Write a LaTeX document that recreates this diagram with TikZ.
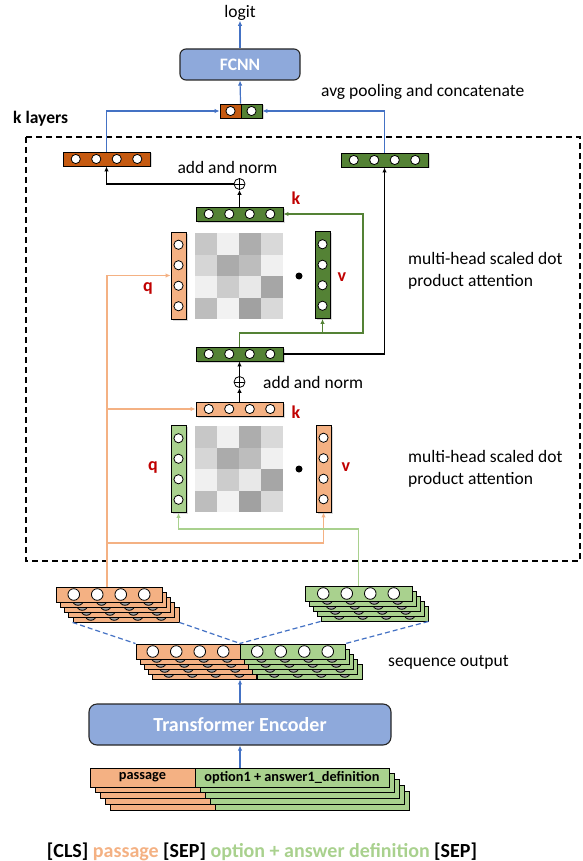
\documentclass[tikz,border=0pt]{standalone}
\usepackage{fontspec}
\setmainfont{Carlito}
\usetikzlibrary{arrows.meta,shadows}
\definecolor{dorange}{HTML}{C55A11}
\definecolor{dgreen}{HTML}{548235}
\definecolor{lorange}{HTML}{F4B183}
\definecolor{lgreen}{HTML}{A9D18E}
\definecolor{lblue}{HTML}{8EA9DB}
\definecolor{ablue}{HTML}{4472C4}
\definecolor{lred}{HTML}{C00000}
\definecolor{peek}{HTML}{A0A0A0}
\tikzset{
  vbox/.style={draw=black, line width=0.9pt, inner sep=0pt,
    drop shadow={shadow xshift=1.5pt, shadow yshift=-1.5pt, opacity=0.3}},
  hvec/.style={vbox, minimum width=87pt, minimum height=14pt},
  vvec/.style={vbox, minimum width=15pt, minimum height=87pt},
  cellc/.style={draw=black, fill=white, line width=0.8pt},
  layer/.style={draw=black, line width=0.9pt, inner sep=0pt},
  lbl/.style={font=\fontsize{17.5}{22}\selectfont, text=black, inner sep=0pt},
  redl/.style={font=\bfseries\fontsize{18}{22}\selectfont, text=lred, inner sep=0pt},
  conn/.style={line width=1.2pt, -{Latex[length=5pt,width=4.5pt]}},
  bigbox/.style={draw=black!85, line width=1.1pt, rounded corners=6pt, fill=lblue,
    text=white, font=\bfseries, inner sep=0pt},
  oplus/.style={circle, draw, line width=0.8pt, minimum size=11pt, inner sep=0pt,
    path picture={\draw[line width=0.8pt] (path picture bounding box.north) -- (path picture bounding box.south)
      (path picture bounding box.west) -- (path picture bounding box.east);}},
  dotn/.style={circle, fill=black, inner sep=0pt, minimum size=7pt},
  zoomline/.style={ablue, line width=1.2pt, dash pattern=on 5pt off 3pt},
}
\newcommand\myhvec[4]{%
  \node[hvec, fill=#4] (#1) at (#2,#3) {};
  \foreach \d in {-30.75,-10.25,10.25,30.75}{\draw[cellc] (#1.center) ++(\d,0) circle[radius=4.6pt];}
}
\newcommand\myvvec[4]{%
  \node[vvec, fill=#4] (#1) at (#2,#3) {};
  \foreach \d in {-30.75,-10.25,10.25,30.75}{\draw[cellc] (#1.center) ++(0,\d) circle[radius=4.6pt];}
}
\newcommand\attmat[2]{%
  \foreach \i/\j/\g in {0/0/22,1/0/6,2/0/32,3/0/15,
                        0/1/16,1/1/33,2/1/26,3/1/6,
                        0/2/6,1/2/20,2/2/9,3/2/35,
                        0/3/26,1/3/5,2/3/37,3/3/15}{
    \fill[black!\g] ({#1+\i*22},{#2+\j*21.5}) rectangle ++(22,21.5);}
}
\begin{document}
\begin{tikzpicture}[x=1pt,y=-1pt]
\useasboundingbox (0,0) rectangle (582,861);

% ---------- top ----------
\node[lbl] (logit) at (240,13) {logit};
\node[bigbox, minimum width=120pt, minimum height=31pt, font=\bfseries\fontsize{17.5}{20}\selectfont] (fcnn) at (240,64.5) {FCNN};
\node[vbox, fill=dorange, minimum width=21pt, minimum height=14pt] (catL) at (230.5,111) {};
\node[vbox, fill=dgreen, minimum width=21pt, minimum height=14pt] (catR) at (251.5,111) {};
\draw[cellc] (catL.center) circle[radius=4.6pt];
\draw[cellc] (catR.center) circle[radius=4.6pt];
\node[lbl, anchor=west] (avgl) at (321,92) {avg pooling and concatenate};
\node[lbl, anchor=west, font=\bfseries\fontsize{17.5}{22}\selectfont] (klay) at (13,119) {k layers};

\draw[line width=1.4pt, dash pattern=on 6pt off 4pt] (26,137) rectangle (580,561);

\myhvec{outL}{106.5}{159}{dorange}
\myhvec{outR}{384.5}{160}{dgreen}

\draw[conn, ablue] (catR.north west) -- (fcnn.south);
\draw[conn, ablue] (fcnn.north) -- (logit.south);
\draw[conn, ablue] (outL.north) |- (catL.west);
\draw[conn, ablue] (outR.north) |- (catR.east);

% ---------- upper attention ----------
\node[lbl] (addA) at (227.5,167) {add and norm};
\node[oplus] (plusA) at (239.5,184) {};
\myhvec{kA}{239.5}{214}{dgreen}
\node[redl] (kAl) at (296,198) {k};
\myvvec{qA}{178.5}{275.5}{lorange}
\attmat{195}{233}
\node[dotn] (dotA) at (299,276) {};
\myvvec{vA}{322.5}{275}{dgreen}
\node[redl] (qAl) at (148,288) {q};
\node[redl] (vAl) at (342,277) {v};
\node[lbl, anchor=west, align=left] (mhA) at (408,271) {multi-head scaled dot\\product attention};

\myhvec{mid}{239.5}{354}{dgreen}

% ---------- lower attention ----------
\node[oplus] (plusB) at (239.5,382) {};
\node[lbl, anchor=west] (addB) at (263,382) {add and norm};
\myhvec{kB}{239.5}{409}{lorange}
\node[redl] (kBl) at (296,412) {k};
\myvvec{qB}{178.5}{469}{lgreen}
\attmat{195}{426}
\node[dotn] (dotB) at (299,469) {};
\myvvec{vB}{323.5}{468.5}{lorange}
\node[redl] (qBl) at (153,467) {q};
\node[redl] (vBl) at (346,467) {v};
\node[lbl, anchor=west, align=left] (mhB) at (408,469) {multi-head scaled dot\\product attention};

% black connectors
\draw[conn] (kA.north) -- (plusA.south);
\draw[conn] (plusA.west) -| (outL.south);
\draw[conn] (mid.east) -| (outR.south);
\draw[conn] (plusB.north) -- (mid.south);
\draw[conn] (kB.north) -- (plusB.south);

% dark green connectors
\coordinate (gA) at (363,333);
\draw[conn, dgreen] (mid.north) |- (gA) |- (kA.east);
\draw[conn, dgreen] (vA.south |- gA) -- (vA.south);

% ---------- side stacks ----------
\foreach \k/\cf in {5/peek,4/peek,3/peek,2/peek,1/white}{
  \node[layer, minimum width=106pt, minimum height=15pt, fill=lorange] (pS\k) at ({109+(\k-1)*4.25},{594.5+(\k-1)*5}) {};
  \foreach \d in {-35.25,-11.75,11.75,35.25}{\draw[cellc, fill=\cf] (pS\k.center) ++(\d,0) circle[radius=5.8pt];}
}
\foreach \k/\cf in {5/peek,4/peek,3/peek,2/peek,1/white}{
  \node[layer, minimum width=107pt, minimum height=15pt, fill=lgreen] (gS\k) at ({358.5+(\k-1)*4},{593.5+(\k-1)*5}) {};
  \foreach \d in {-35.25,-11.75,11.75,35.25}{\draw[cellc, fill=\cf] (gS\k.center) ++(\d,0) circle[radius=5.8pt];}
}

% orange connectors
\coordinate (oBot) at (107,587);
\coordinate (oV) at (323.5,543);
\draw[conn, lorange] (oBot) |- (qA.west);
\draw[conn, lorange] (oBot) |- (kB.west);
\draw[conn, lorange] (oBot) |- (oV) -- (vB.south);
% light green connector
\coordinate (gBot) at (358.5,586);
\coordinate (gQ) at (358.5,529);
\draw[conn, lgreen] (gBot) -- (gQ) -| (qB.south);

% ---------- center stack ----------
\foreach \k/\cf in {5/peek,4/peek,3/peek,2/peek,1/white}{
  \node[layer, minimum width=104pt, minimum height=15pt, fill=lorange] (cO\k) at ({188+(\k-1)*4},{651.5+(\k-1)*5}) {};
  \node[layer, minimum width=105pt, minimum height=15pt, fill=lgreen] (cG\k) at ({292.5+(\k-1)*4.25},{651.5+(\k-1)*5}) {};
  \foreach \d in {-35.25,-11.75,11.75,35.25}{
    \draw[cellc, fill=\cf] (cO\k.center) ++(\d,0) circle[radius=5.8pt];
    \draw[cellc, fill=\cf] (cG\k.center) ++(\d,0) circle[radius=5.8pt];}
}
\node[lbl, anchor=west] (seqo) at (388,662) {sequence output};

\draw[zoomline] (pS5.south west) -- (cO1.north west);
\draw[zoomline] (pS5.south east) -- (cO1.north east);
\draw[zoomline] (gS5.south west) -- (cG1.north west);
\draw[zoomline] (gS5.south east) -- (cG1.north east);

% ---------- encoder ----------
\node[bigbox, minimum width=302pt, minimum height=41pt, rounded corners=8pt, font=\bfseries\fontsize{20}{24}\selectfont] (enc) at (240,724.5) {Transformer Encoder};
\draw[conn, ablue] (enc.north) -- (enc.north |- cO5.south);

% ---------- input stack ----------
\foreach \k in {5,4,3,2}{
  \node[layer, minimum width=105pt, minimum height=19pt, fill=lorange] (iO\k) at ({142.5+(\k-1)*5},{777.5+(\k-1)*5.75}) {};
  \node[layer, minimum width=194pt, minimum height=19pt, fill=lgreen] (iG\k) at ({292+(\k-1)*5},{777.5+(\k-1)*5.75}) {};
}
\node[layer, minimum width=105pt, minimum height=19pt, fill=lorange, font=\bfseries\fontsize{14.3}{16}\selectfont] (iO1) at (142.5,777.5) {passage};
\node[layer, minimum width=194pt, minimum height=19pt, fill=lgreen, font=\bfseries\fontsize{14.3}{16}\selectfont] (iG1) at (292,777.5) {option1 + answer1\_definition};
\draw[conn, ablue] (enc.south |- iG1.north) -- (enc.south);

\node[font=\bfseries\fontsize{20}{24}\selectfont, inner sep=0pt] (bottomt) at (262,852)
  {[CLS] \textcolor{lorange}{passage} [SEP] \textcolor{lgreen}{option + answer definition} [SEP]};
\end{tikzpicture}
\end{document}
